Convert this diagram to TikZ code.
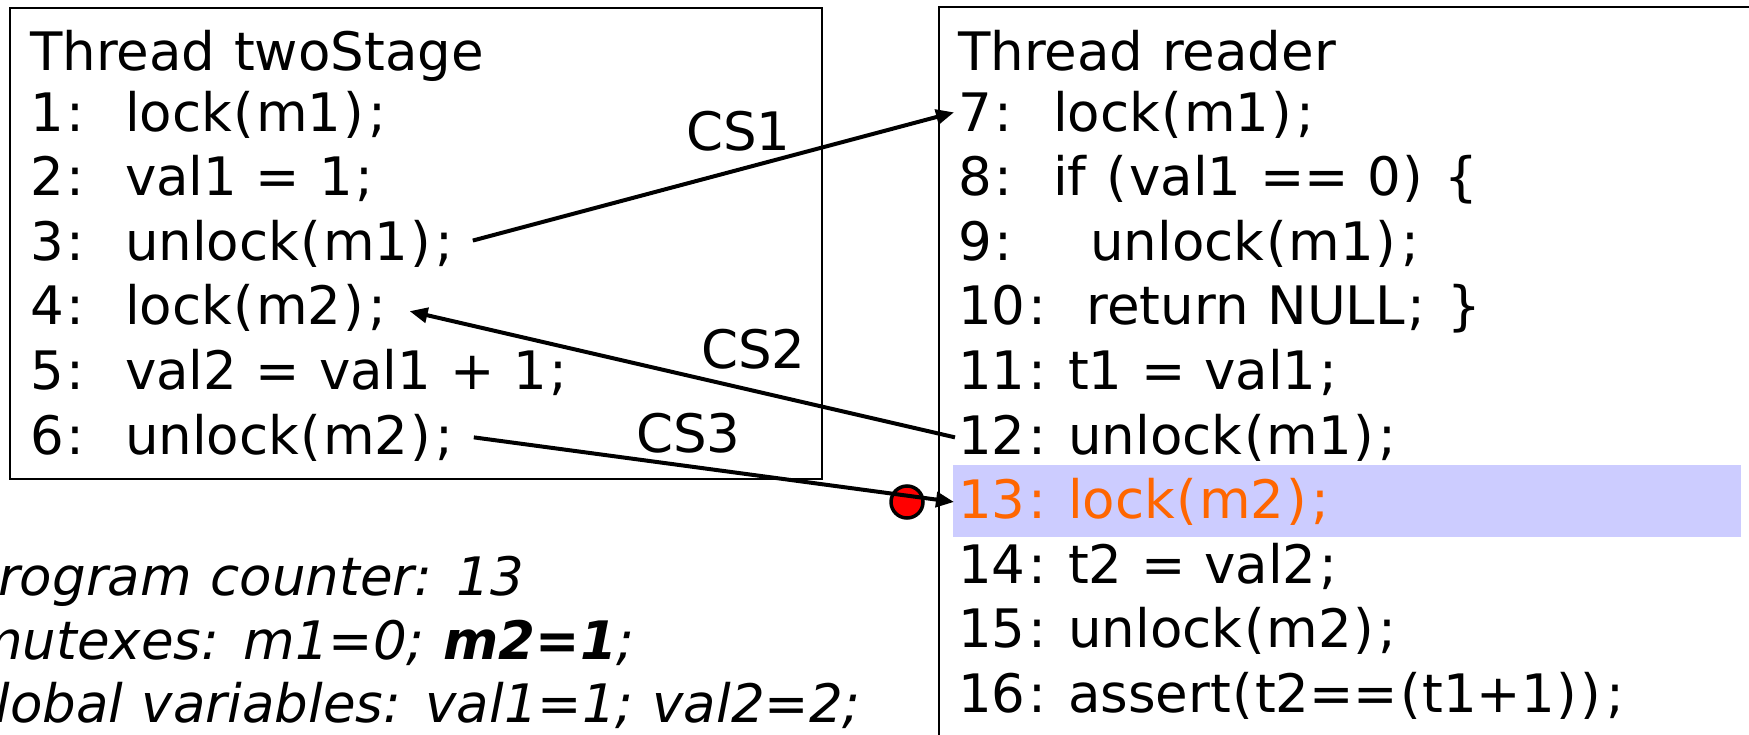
\documentclass[tikz,border=0pt]{standalone}
\usepackage{fontspec}
\setmainfont{DejaVu Sans}[WordSpace=1.107]
\usetikzlibrary{arrows.meta}
\definecolor{hlblue}{HTML}{CCCCFF}
\definecolor{pcorange}{HTML}{FF6600}
\definecolor{dotred}{HTML}{FF0000}
% Verdana-like punctuation widths
\newcommand\Co{\kern3pt:\kern3pt}
\newcommand\Se{\kern3pt;\kern3pt}
\newcommand\Lp{\kern1.7pt(\kern1.7pt}
\newcommand\Rp{\kern1.7pt)\kern1.7pt}
\begin{document}
\begin{tikzpicture}[x=1pt,y=-1pt,
  codeline/.style={anchor=base west,inner sep=0pt,font=\fontsize{53}{64}\selectfont},
  statline/.style={codeline,font=\fontsize{53}{64}\selectfont\itshape},
  threadbox/.style={draw,line width=2pt},
  conn/.style={line width=4pt,-{Triangle[length=18pt,width=15pt]}},
  pcdot/.style={circle,draw,fill=dotred,line width=3.5pt,minimum size=32pt,inner sep=0pt}]
\useasboundingbox (0,0) rectangle (1749,734);
% right box (runs off the picture)
\begin{scope}
\clip (0,0) rectangle (1749,734);
\draw[threadbox] (939,7) rectangle (1800,800);
\end{scope}
\fill[hlblue] (953,465) rectangle (1741,537);
% left box
\draw[threadbox] (10,8) rectangle (822,479);
% left thread
\node[codeline] (l0) at (30,70) {Thread twoStage};
\node[codeline] (l1) at (30,131) {1\Co~~lock\Lp m1\Rp\Se};
\node[codeline] (l2) at (30,195.6) {2\Co~~val1 = 1\Se};
\node[codeline] (l3) at (30,260.2) {3\Co~~unlock\Lp m1\Rp\Se};
\node[codeline] (l4) at (30,324.8) {4\Co~~lock\Lp m2\Rp\Se};
\node[codeline] (l5) at (30,389.4) {5\Co~~val2 = val1 + 1\Se};
\node[codeline] (l6) at (30,454) {6\Co~~unlock\Lp m2\Rp\Se};
% right thread
\node[codeline] (r0) at (958,70) {Thread reader};
\node[codeline] (r7) at (958,131) {7\Co~~lock\Lp m1\Rp\Se};
\node[codeline] (r8) at (958,195.6) {8\Co~~if \Lp val1 == 0\Rp\ \{};
\node[codeline] (r9) at (958,260.2) {9\Co~~~~unlock\Lp m1\Rp\Se};
\node[codeline] (r10) at (958,324.8) {10\Co~~return NULL\Se\ \}};
\node[codeline] (r11) at (958,389.4) {11\Co\ t1 = val1\Se};
\node[codeline] (r12) at (958,454) {12\Co\ unlock\Lp m1\Rp\Se};
\node[codeline,text=pcorange] (r13) at (958,518.6) {13\Co\ lock\Lp m2\Rp\Se};
\node[codeline] (r14) at (958,583.2) {14\Co\ t2 = val2\Se};
\node[codeline] (r15) at (958,647.8) {15\Co\ unlock\Lp m2\Rp\Se};
\node[codeline] (r16) at (958,712.4) {16\Co\ assert\Lp t2==\Lp t1+1\Rp\Rp\Se};
% labels
\node[codeline] (cs1) at (686,150) {CS1};
\node[codeline] (cs2) at (701,368) {CS2};
\node[codeline] (cs3) at (636,452) {CS3};
% state
\node[statline] (st1) at (-34,595) {Program counter: 13};
\node[statline] (st2) at (-29,659) {mutexes: m1=0; \textbf{m2=1};};
\node[statline] (st3) at (-46,722) {Global variables: val1=1; val2=2;};
% program counter dot
\node[pcdot] (pc) at (907,502) {};
% connectors
\draw[conn] ([xshift=16pt,yshift=3pt]l3.east) -- ([xshift=-4pt,yshift=2pt]r7.west);
\draw[conn] ([xshift=-3pt]r12.west) -- ([xshift=20pt,yshift=-3pt]l4.east);
\draw[conn] ([xshift=17pt]l6.east) -- ([xshift=-4pt]r13.west);
\end{tikzpicture}
\end{document}
